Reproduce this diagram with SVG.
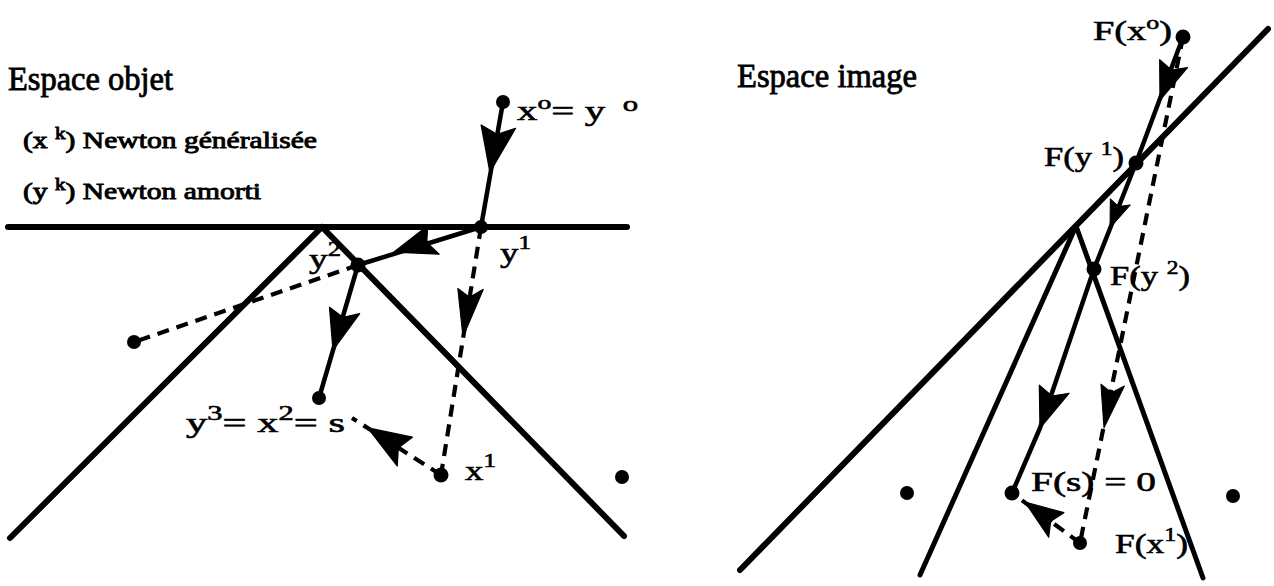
<svg xmlns="http://www.w3.org/2000/svg" xmlns:xlink="http://www.w3.org/1999/xlink" width="1274" height="586" viewBox="0 0 1274 586">
<style>
  .cons{stroke:#000;stroke-width:6;fill:none;stroke-linecap:round;stroke-linejoin:round}
  .thin{stroke:#000;stroke-width:5;fill:none;stroke-linecap:round;stroke-linejoin:round}
  .path{stroke:#000;stroke-width:4.5;fill:none;stroke-linecap:round;stroke-linejoin:round}
  .dash{stroke:#000;stroke-width:4.2;fill:none;stroke-dasharray:12 8}
  .dot{fill:#000}
  .ah{fill:#000;stroke:#000;stroke-width:1.5;stroke-linejoin:round}
  text{font-family:'Liberation Serif','Times New Roman',serif;fill:#000;stroke:#000;stroke-width:0.6}
  .title{font-size:33px;stroke-width:0.8}
  .leg{font-size:24px;stroke-width:0.9}
  .lab{font-size:28px}
</style>
<defs>
  <path id="ah" d="M0,0 L-50,-18 L-41,-2 L-41,2 L-47,18 Z"/>
</defs>
<rect x="0" y="0" width="1274" height="586" fill="#ffffff"/>

<g id="titles">
  <text class="title" x="8" y="90" textLength="165" lengthAdjust="spacingAndGlyphs" font-family="Liberation Serif, serif">Espace objet</text>
  <text class="leg" x="23" y="148" textLength="294" lengthAdjust="spacingAndGlyphs" font-family="Liberation Serif, serif">(x <tspan dy="-9" font-size="17">k</tspan><tspan dy="9">) Newton généralisée</tspan></text>
  <text class="leg" x="23" y="199" textLength="238" lengthAdjust="spacingAndGlyphs" font-family="Liberation Serif, serif">(y <tspan dy="-9" font-size="17">k</tspan><tspan dy="9">) Newton amorti</tspan></text>
  <text class="title" x="737" y="87" textLength="180" lengthAdjust="spacingAndGlyphs" font-family="Liberation Serif, serif">Espace image</text>
</g>

<g id="constraints">
  <line class="cons" x1="8" y1="227" x2="627" y2="227"/>
  <polyline class="cons" points="10,538 322,227 624,536"/>
  <line class="cons" x1="740" y1="570" x2="1268" y2="29"/>
  <polyline class="thin" points="920,575 1076,226 1203,578"/>
</g>

<g id="connectors">
  <line class="path" x1="503" y1="102" x2="481" y2="227"/>
  <polyline class="path" points="481,227 452,236 358,265"/>
  <line class="path" x1="358" y1="265" x2="319" y2="398"/>
  <line class="dash" x1="481" y1="227" x2="441" y2="475"/>
  <line class="dash" x1="441" y1="475" x2="352" y2="418"/>
  <line class="dash" x1="358" y1="265" x2="134" y2="342"/>
  <use class="ah" xlink:href="#ah" href="#ah" transform="translate(490,172) rotate(100.4) scale(0.95)"/>
  <use class="ah" xlink:href="#ah" href="#ah" transform="translate(394,252) rotate(163) scale(0.85)"/>
  <use class="ah" xlink:href="#ah" href="#ah" transform="translate(463,337) rotate(98.9) scale(1.0,0.7)"/>
  <use class="ah" xlink:href="#ah" href="#ah" transform="translate(333,350) rotate(106.3) scale(0.85)"/>
  <use class="ah" xlink:href="#ah" href="#ah" transform="translate(368,428) rotate(212.6) scale(0.9)"/>

  <line class="path" x1="1183" y1="37" x2="1136" y2="163"/>
  <polyline class="path" points="1136,163 1094,269 1040,428 1012,493"/>
  <line class="dash" x1="1183" y1="37" x2="1080" y2="543"/>
  <line class="dash" x1="1080" y1="543" x2="1012" y2="493"/>
  <use class="ah" xlink:href="#ah" href="#ah" transform="translate(1160,100) rotate(110.5) scale(0.8)"/>
  <use class="ah" xlink:href="#ah" href="#ah" transform="translate(1110,228) rotate(111.6) scale(0.58)"/>
  <use class="ah" xlink:href="#ah" href="#ah" transform="translate(1040,428) rotate(110.1) scale(0.85)"/>
  <use class="ah" xlink:href="#ah" href="#ah" transform="translate(1104,428) rotate(101.4) scale(0.9,0.65)"/>
  <use class="ah" xlink:href="#ah" href="#ah" transform="translate(1025,502) rotate(216.3) scale(0.8)"/>
</g>

<g id="x0">
  <circle class="dot" cx="503" cy="102" r="7"/>
  <text class="lab" x="517" y="120" textLength="121" lengthAdjust="spacingAndGlyphs" font-family="Liberation Serif, serif">x<tspan dy="-11" font-size="19">o</tspan><tspan dy="11">= y</tspan><tspan dx="12" dy="-9" font-size="21">o</tspan></text>
</g>
<g id="y1">
  <circle class="dot" cx="481" cy="227" r="7"/>
  <text class="lab" x="500" y="262" textLength="31" lengthAdjust="spacingAndGlyphs" font-family="Liberation Serif, serif">y<tspan dy="-13" font-size="19">1</tspan></text>
</g>
<g id="y2">
  <circle class="dot" cx="358" cy="265" r="7.5"/>
  <text class="lab" x="309" y="268" textLength="32" lengthAdjust="spacingAndGlyphs" font-family="Liberation Serif, serif">y<tspan dy="-12" font-size="20">2</tspan></text>
</g>
<g id="y3">
  <circle class="dot" cx="319" cy="398" r="7"/>
  <text class="lab" x="186" y="432" textLength="159" lengthAdjust="spacingAndGlyphs" font-family="Liberation Serif, serif">y<tspan dy="-12" font-size="20">3</tspan><tspan dy="12">= x</tspan><tspan dy="-12" font-size="20">2</tspan><tspan dy="12">= s</tspan></text>
</g>
<g id="x1">
  <circle class="dot" cx="441" cy="475" r="7.5"/>
  <text class="lab" x="465" y="480" textLength="31" lengthAdjust="spacingAndGlyphs" font-family="Liberation Serif, serif">x<tspan dy="-13" font-size="19">1</tspan></text>
</g>
<g id="p-left">
  <circle class="dot" cx="134" cy="342" r="7"/>
</g>
<g id="p-right">
  <circle class="dot" cx="622" cy="477" r="7"/>
</g>

<g id="Fx0">
  <circle class="dot" cx="1183" cy="37" r="7.5"/>
  <text class="lab" x="1093" y="40" textLength="79" lengthAdjust="spacingAndGlyphs" font-family="Liberation Serif, serif">F(x<tspan dy="-11" font-size="19">o</tspan><tspan dy="11">)</tspan></text>
</g>
<g id="Fy1">
  <circle class="dot" cx="1136" cy="163" r="7.5"/>
  <text class="lab" x="1044" y="166" textLength="80" lengthAdjust="spacingAndGlyphs" font-family="Liberation Serif, serif">F(y <tspan dy="-11" font-size="19">1</tspan><tspan dy="11">)</tspan></text>
</g>
<g id="Fy2">
  <circle class="dot" cx="1094" cy="269" r="7.5"/>
  <text class="lab" x="1110" y="285" textLength="80" lengthAdjust="spacingAndGlyphs" font-family="Liberation Serif, serif">F(y <tspan dy="-11" font-size="19">2</tspan><tspan dy="11">)</tspan></text>
</g>
<g id="Fs">
  <circle class="dot" cx="1012" cy="493" r="7.5"/>
  <text class="lab" x="1031" y="491" textLength="125" lengthAdjust="spacingAndGlyphs" font-family="Liberation Serif, serif">F(s) = 0</text>
</g>
<g id="Fx1">
  <circle class="dot" cx="1080" cy="543" r="7"/>
  <text class="lab" x="1115" y="553" textLength="73" lengthAdjust="spacingAndGlyphs" font-family="Liberation Serif, serif">F(x<tspan dy="-12" font-size="19">1</tspan><tspan dy="12">)</tspan></text>
</g>
<g id="q-left">
  <circle class="dot" cx="907" cy="493" r="7"/>
</g>
<g id="q-right">
  <circle class="dot" cx="1233" cy="496" r="7"/>
</g>
</svg>
